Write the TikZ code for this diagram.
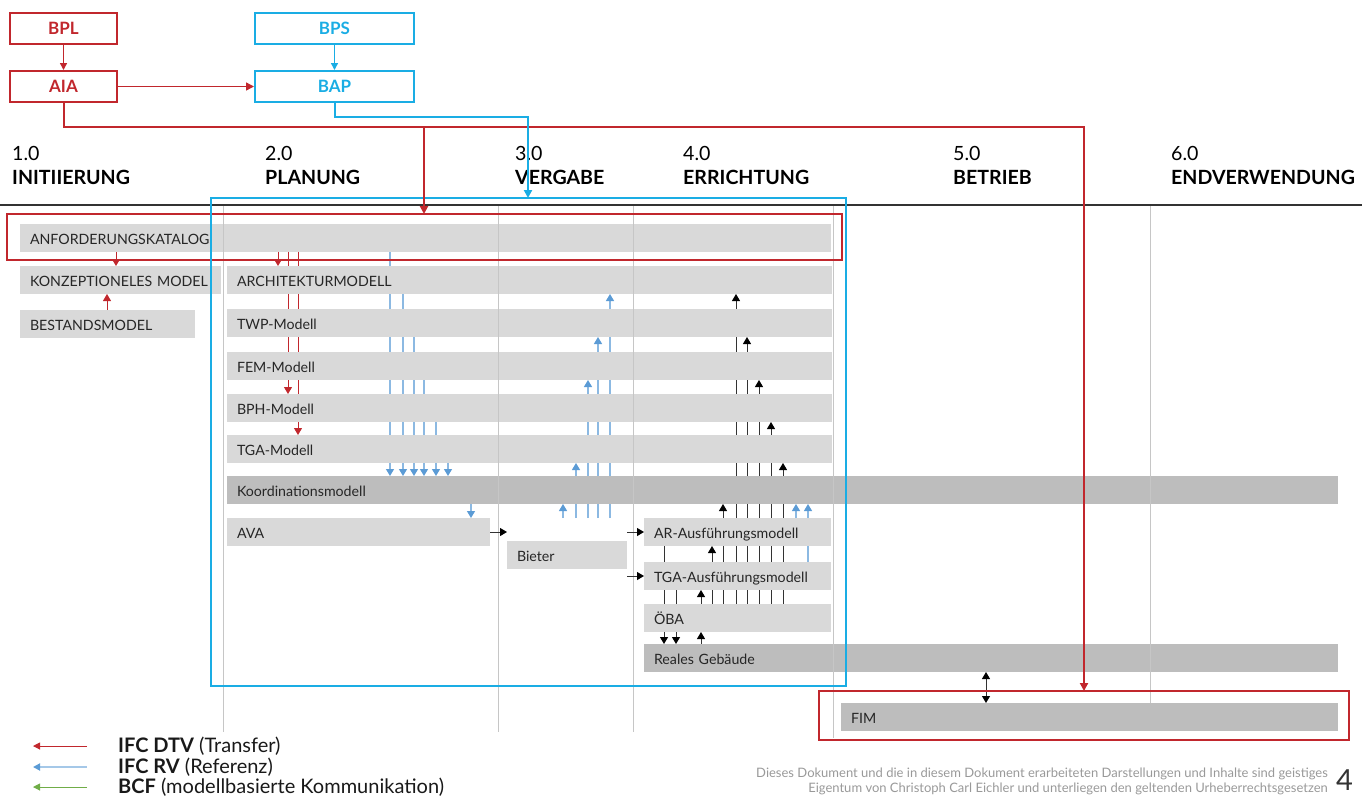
\documentclass[tikz,border=0pt]{standalone}
\usepackage{fontspec}
\setmainfont{Lato}
\usetikzlibrary{arrows.meta}

\definecolor{dtvred}{HTML}{C1272D}
\definecolor{bapblue}{HTML}{1AADE4}
\definecolor{rvblue}{HTML}{5B9BD5}
\definecolor{bcfgreen}{HTML}{70AD47}
\definecolor{barlight}{HTML}{D9D9D9}
\definecolor{bardark}{HTML}{BDBDBD}
\definecolor{gridgray}{HTML}{C6C6C6}
\definecolor{inkgray}{HTML}{333333}
\definecolor{notegray}{HTML}{999999}

\pgfdeclarelayer{back}
\pgfsetlayers{back,main}

\tikzset{
  bar/.style={fill=barlight, draw=none, anchor=north west, minimum height=28pt,
    inner xsep=10pt, inner ysep=0pt, outer sep=0pt, text width=#1, align=left,
    font=\fontsize{14.2}{16}\selectfont, text=black!85, text height=13pt, text depth=1pt},
  darkbar/.style={bar=#1, fill=bardark},
  topbox/.style={draw=#1, line width=2pt, text=#1, minimum width=107pt, minimum height=31pt,
    inner sep=0pt, font=\fontsize{17}{19}\selectfont\bfseries},
  frame/.style={draw=#1, line width=2pt, anchor=north west, inner sep=0pt, outer sep=0pt},
  phase/.style={anchor=south west, inner sep=0pt, align=left, font=\fontsize{19.6}{24}\selectfont},
  grid/.style={draw=gridgray, line width=1pt},
  dtv/.style={draw=dtvred, line width=1pt, -{Triangle[length=7pt,width=8pt,color=dtvred]}},
  rv/.style={draw=rvblue!70, line width=1.2pt, -{Triangle[length=7pt,width=8pt,color=rvblue]}},
  bk/.style={draw=inkgray, line width=1pt, -{Triangle[length=7pt,width=8pt,color=black]}},
  bkboth/.style={draw=inkgray, line width=1pt, {Triangle[length=7pt,width=8pt,color=black]}-{Triangle[length=7pt,width=8pt,color=black]}},
  redflow/.style={draw=dtvred, line width=2pt, -{Triangle[length=8pt,width=8pt,color=dtvred]}},
  blueflow/.style={draw=bapblue, line width=2pt, -{Triangle[length=8pt,width=8pt,color=bapblue]}},
  legtext/.style={anchor=west, inner sep=0pt, font=\fontsize{20}{21}\selectfont, text=black!90},
}

\begin{document}
\begin{tikzpicture}[x=1pt, y=-1pt]
\useasboundingbox (0,0) rectangle (1370,796);

% ---------- sources of requirements ----------
\node[topbox=dtvred] (bpl) at (63.5,28.5) {BPL};
\node[topbox=dtvred] (aia) at (63.5,86.5) {AIA};
\node[topbox=bapblue, minimum width=159pt] (bps) at (334.5,28.5) {BPS};
\node[topbox=bapblue, minimum width=159pt] (bap) at (334.5,86.5) {BAP};
\draw[draw=dtvred, line width=1.5pt, -{Triangle[length=7pt,width=7pt,color=dtvred]}] (bpl) -- (aia);
\draw[draw=bapblue, line width=1.5pt, -{Triangle[length=7pt,width=7pt,color=bapblue]}] (bps) -- (bap);
\draw[draw=dtvred, line width=1.5pt, -{Triangle[length=8pt,width=8pt,color=dtvred]}] (aia) -- (bap);

% ---------- phases ----------
\node[phase] (ph1) at (12,185) {1.0\\\textbf{INITIIERUNG}};
\node[phase] (ph2) at (265,185) {2.0\\\textbf{PLANUNG}};
\node[phase] (ph3) at (515,185) {3.0\\\textbf{VERGABE}};
\node[phase] (ph4) at (683,185) {4.0\\\textbf{ERRICHTUNG}};
\node[phase] (ph5) at (953,185) {5.0\\\textbf{BETRIEB}};
\node[phase] (ph6) at (1171,185) {6.0\\\textbf{ENDVERWENDUNG}};
\draw[draw=inkgray, line width=1.3pt] (0,205) -- (1362,205);

% ---------- models ----------
\node[bar=791pt] (anf) at (20,224) {ANFORDERUNGSKATALOG};
\node[bar=181pt] (konz) at (20,266) {\mbox{KONZEPTIONELES MODEL}};
\node[bar=155pt] (best) at (20,310) {BESTANDSMODEL};
\node[bar=585pt] (arch) at (227,266) {ARCHITEKTURMODELL};
\node[bar=585pt] (twp) at (227,309) {TWP-Modell};
\node[bar=585pt] (fem) at (227,352) {FEM-Modell};
\node[bar=585pt] (bph) at (227,394) {BPH-Modell};
\node[bar=585pt] (tga) at (227,435) {TGA-Modell};
\node[darkbar=1091pt] (koord) at (227,476) {Koordinationsmodell};
\node[bar=243pt] (ava) at (227,518) {AVA};
\node[bar=100pt] (bieter) at (507,541) {Bieter};
\node[bar=167pt] (arex) at (644,518) {AR-Ausführungsmodell};
\node[bar=167pt] (tgaex) at (644,562) {TGA-Ausführungsmodell};
\node[bar=167pt] (oeba) at (644,604) {ÖBA};
\node[darkbar=674pt] (real) at (644,644) {Reales Gebäude};
\node[darkbar=477pt] (fim) at (841,703) {FIM};

% phase separators
\foreach \gx/\gy in {223/732, 498/732, 633/732, 833/738, 1150/703}
  \draw[grid] (\gx,206) -- (\gx,\gy);

% ---------- model exchanges (behind the bars) ----------
\begin{pgfonlayer}{back}
  % IFC DTV
  \draw[dtv] (116,0 |- anf.south) -- (116,0 |- konz.north);
  \draw[dtv] (107,0 |- best.north) -- (107,0 |- konz.south);
  \draw[dtv] (278,0 |- anf.south) -- (278,0 |- arch.north);
  \draw[dtv] (288,0 |- anf.south) -- (288,0 |- bph.north);
  \draw[dtv] (298,0 |- anf.south) -- (298,0 |- tga.north);
  % IFC RV into the coordination model
  \draw[rv] (390,0 |- anf.south) -- (390,0 |- koord.north);
  \draw[rv] (403,0 |- arch.south) -- (403,0 |- koord.north);
  \draw[rv] (414,0 |- twp.south) -- (414,0 |- koord.north);
  \draw[rv] (424,0 |- fem.south) -- (424,0 |- koord.north);
  \draw[rv] (436,0 |- bph.south) -- (436,0 |- koord.north);
  \draw[rv] (448,0 |- tga.south) -- (448,0 |- koord.north);
  \draw[rv] (471,0 |- koord.south) -- (471,0 |- ava.north);
  % IFC RV back to the discipline models
  \draw[rv] (563,0 |- arex.north) -- (563,0 |- koord.south);
  \draw[rv] (576,0 |- arex.north) -- (576,0 |- tga.south);
  \draw[rv] (588,0 |- arex.north) -- (588,0 |- fem.south);
  \draw[rv] (598,0 |- arex.north) -- (598,0 |- twp.south);
  \draw[rv] (610,0 |- arex.north) -- (610,0 |- arch.south);
  \draw[rv] (796,0 |- arex.north) -- (796,0 |- koord.south);
  \draw[rv] (808,0 |- tgaex.north) -- (808,0 |- koord.south);
  % construction phase
  \draw[bk] (664,0 |- arex.south) -- (664,0 |- real.north);
  \draw[bk] (676,0 |- tgaex.south) -- (676,0 |- real.north);
  \draw[bk] (701,0 |- real.north) -- (701,0 |- oeba.south);
  \draw[bk] (701,0 |- oeba.north) -- (701,0 |- tgaex.south);
  \draw[bk] (712,0 |- oeba.north) -- (712,0 |- arex.south);
  \draw[bk] (723,0 |- oeba.north) -- (723,0 |- koord.south);
  \draw[bk] (736,0 |- oeba.north) -- (736,0 |- arch.south);
  \draw[bk] (747,0 |- oeba.north) -- (747,0 |- twp.south);
  \draw[bk] (759,0 |- oeba.north) -- (759,0 |- fem.south);
  \draw[bk] (771,0 |- oeba.north) -- (771,0 |- bph.south);
  \draw[bk] (783,0 |- oeba.north) -- (783,0 |- tga.south);
\end{pgfonlayer}

% tendering
\draw[bk] (ava.east) -- (bieter.west |- ava.east);
\draw[bk] (bieter.east |- arex.west) -- (arex.west);
\draw[bk] (bieter.east |- tgaex.west) -- (tgaex.west);
\draw[bkboth] (986,0 |- real.south) -- (986,0 |- fim.north);

% ---------- frames ----------
\node[frame=dtvred, minimum width=835pt, minimum height=46pt] (anfbox) at (7,214) {};
\node[frame=dtvred, minimum width=530pt, minimum height=49pt] (fimbox) at (819,691) {};
\node[frame=bapblue, minimum width=635pt, minimum height=488pt] (planbox) at (211,198) {};

% ---------- flows from the client requirements ----------
\coordinate (aiasplit) at (424,127);
\draw[redflow] (aia.south) |- (fimbox.north |- aiasplit) -- (fimbox.north);
\draw[redflow] (aiasplit) -- (aiasplit |- anfbox.north);
\coordinate (bapturn) at (528,117);
\draw[blueflow] (bap.south) |- (bapturn) -- (bapturn |- planbox.north);

% ---------- legend ----------
\coordinate (lg1) at (33,746);
\coordinate (lg2) at (33,767);
\coordinate (lg3) at (33,787);
\node[legtext] (leg1) at (118,746) {\textbf{IFC DTV} (Transfer)};
\node[legtext] (leg2) at (118,767) {\textbf{IFC RV} (Referenz)};
\node[legtext] (leg3) at (118,787) {\textbf{BCF} (modellbasierte Kommunikation)};
\draw[draw=dtvred, line width=1pt, -{Triangle[length=7pt,width=7pt,color=dtvred]}] (leg1.west) ++(-31,0) -- (lg1);
\draw[draw=rvblue!55, line width=2pt, -{Triangle[length=7pt,width=7pt,color=rvblue]}] (leg2.west) ++(-31,0) -- (lg2);
\draw[draw=bcfgreen, line width=1pt, -{Triangle[length=7pt,width=7pt,color=bcfgreen]}] (leg3.west) ++(-31,0) -- (lg3);

% ---------- footer ----------
\node[anchor=north east, align=right, inner sep=0pt, text=notegray,
      font=\fontsize{13}{15}\selectfont] (note) at (1328,768)
  {Dieses Dokument und die in diesem Dokument erarbeiteten Darstellungen und Inhalte sind geistiges\\
   Eigentum von Christoph Carl Eichler und unterliegen den geltenden Urheberrechtsgesetzen};
\node[anchor=base west, inner sep=0pt, text=inkgray, font=\fontsize{29}{29}\selectfont] (page) at (1336,790) {4};
\end{tikzpicture}
\end{document}
